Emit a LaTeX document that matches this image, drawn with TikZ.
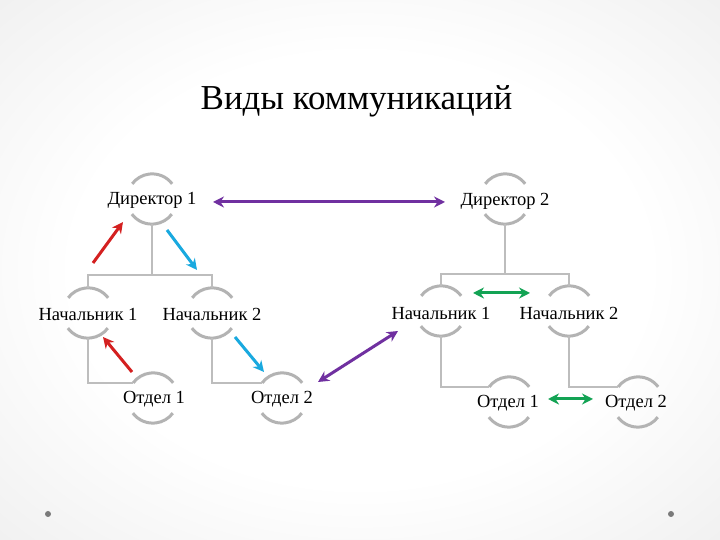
\documentclass[tikz,border=0pt]{standalone}
\usepackage{fontspec}
\setmainfont{Liberation Serif}
\usetikzlibrary{arrows.meta}
\definecolor{arcgray}{HTML}{B3B3B3}
\definecolor{linegray}{HTML}{BDBDBD}
\definecolor{aRed}{HTML}{D42020}
\definecolor{aCyan}{HTML}{19A9DF}
\definecolor{aPurple}{HTML}{7030A0}
\definecolor{aGreen}{HTML}{13A354}
\definecolor{dotgray}{HTML}{7A7A7A}
\pgfdeclareradialshading{slidebg}{\pgfpoint{0bp}{0bp}}{color(0bp)=(white); color(20bp)=(white); color(45bp)=(black!9); color(72bp)=(black!19)}
\begin{document}
\begin{tikzpicture}[x=1pt,y=1pt,
  circ/.style={circle,minimum size=50pt,inner sep=0pt,draw=none},
  lbl/.style={inner sep=0pt,font=\fontsize{18.5}{22}\selectfont,text=black},
  arcst/.style={draw=arcgray,line width=3pt},
  tree/.style={draw=linegray,line width=2.5pt},
  arr/.style={line width=3pt,-{Stealth[length=11pt,width=11pt]}},
  darr/.style={line width=3pt,{Stealth[length=11pt,width=11pt]}-{Stealth[length=11pt,width=11pt]}}
]
\useasboundingbox (0,0) rectangle (720,540);
\shade[shading=slidebg] (0,0) rectangle (720,540);
\fill[dotgray] (48,26) circle (3pt);
\fill[dotgray] (671,26) circle (3pt);

\node[anchor=base,inner sep=0pt,font=\fontsize{35}{42}\selectfont] (title) at (356.5,430) {Виды коммуникаций};

% circles
\node[circ] (D1) at (152,341) {};
\node[circ] (D2) at (505,341) {};
\node[circ] (N1L) at (88,227) {};
\node[circ] (N2L) at (212,227) {};
\node[circ] (O1L) at (153,142) {};
\node[circ] (O2L) at (282,142) {};
\node[circ] (N1R) at (441,229) {};
\node[circ] (N2R) at (569,229) {};
\node[circ] (O1R) at (509,138) {};
\node[circ] (O2R) at (638,138) {};

\foreach \n in {D1,D2,N1L,N2L,O1L,O2L,N1R,N2R,O1R,O2R}{
  \draw[arcst] (\n.37) arc (37:143:25);
  \draw[arcst] (\n.217) arc (217:323:25);
}

% labels
\node[lbl] (tD1) at ([yshift=-1pt]D1.center) {Директор 1};
\node[lbl] (tD2) at ([yshift=-2pt]D2.center) {Директор 2};
\node[lbl] (tN1L) at ([yshift=-1pt]N1L.center) {Начальник 1};
\node[lbl] (tN2L) at ([yshift=-1pt]N2L.center) {Начальник 2};
\node[lbl] (tO1L) at ([xshift=1pt,yshift=-1pt]O1L.center) {Отдел 1};
\node[lbl] (tO2L) at ([yshift=-1pt]O2L.center) {Отдел 2};
\node[lbl] (tN1R) at ([yshift=-2pt]N1R.center) {Начальник 1};
\node[lbl] (tN2R) at ([yshift=-2pt]N2R.center) {Начальник 2};
\node[lbl] (tO1R) at ([xshift=-1pt,yshift=-1pt]O1R.center) {Отдел 1};
\node[lbl] (tO2R) at ([xshift=-2pt,yshift=-1pt]O2R.center) {Отдел 2};

% tree lines
\coordinate (barL) at (152,265);
\coordinate (barR) at (505,266);
\draw[tree] (D1.south) -- (barL);
\draw[tree] (N1L.north) |- (barL);
\draw[tree] (N2L.north) |- (barL);
\draw[tree] (D2.south) -- (barR);
\draw[tree] (N1R.north) |- (barR);
\draw[tree] (N2R.north) |- (barR);
\draw[tree] (N1L.south) |- (O1L.143);
\draw[tree] (N2L.south) |- (O2L.143);
\draw[tree] (N1R.south) |- (O1R.143);
\draw[tree] (N2R.south) |- (O2R.143);

% arrow end points
\coordinate (r1a) at (93,277);  \coordinate (r1b) at (123,318);
\coordinate (r2a) at (132,168); \coordinate (r2b) at (103,203);
\coordinate (c1a) at (167,310); \coordinate (c1b) at (197,270);
\coordinate (c2a) at (235,203); \coordinate (c2b) at (264,168);
\coordinate (p1a) at (213,338); \coordinate (p1b) at (445,338);
\coordinate (p2a) at (318,158); \coordinate (p2b) at (398,209);
\coordinate (g1a) at (473,247); \coordinate (g1b) at (530,247);
\coordinate (g2a) at (548,141); \coordinate (g2b) at (593,141);

\draw[arr,aRed] (r1a) -- (r1b);
\draw[arr,aRed] (r2a) -- (r2b);
\draw[arr,aCyan] (c1a) -- (c1b);
\draw[arr,aCyan] (c2a) -- (c2b);
\draw[darr,aPurple] (p1a) -- (p1b);
\draw[darr,aPurple] (p2a) -- (p2b);
\draw[darr,aGreen] (g1a) -- (g1b);
\draw[darr,aGreen] (g2a) -- (g2b);
\end{tikzpicture}
\end{document}
